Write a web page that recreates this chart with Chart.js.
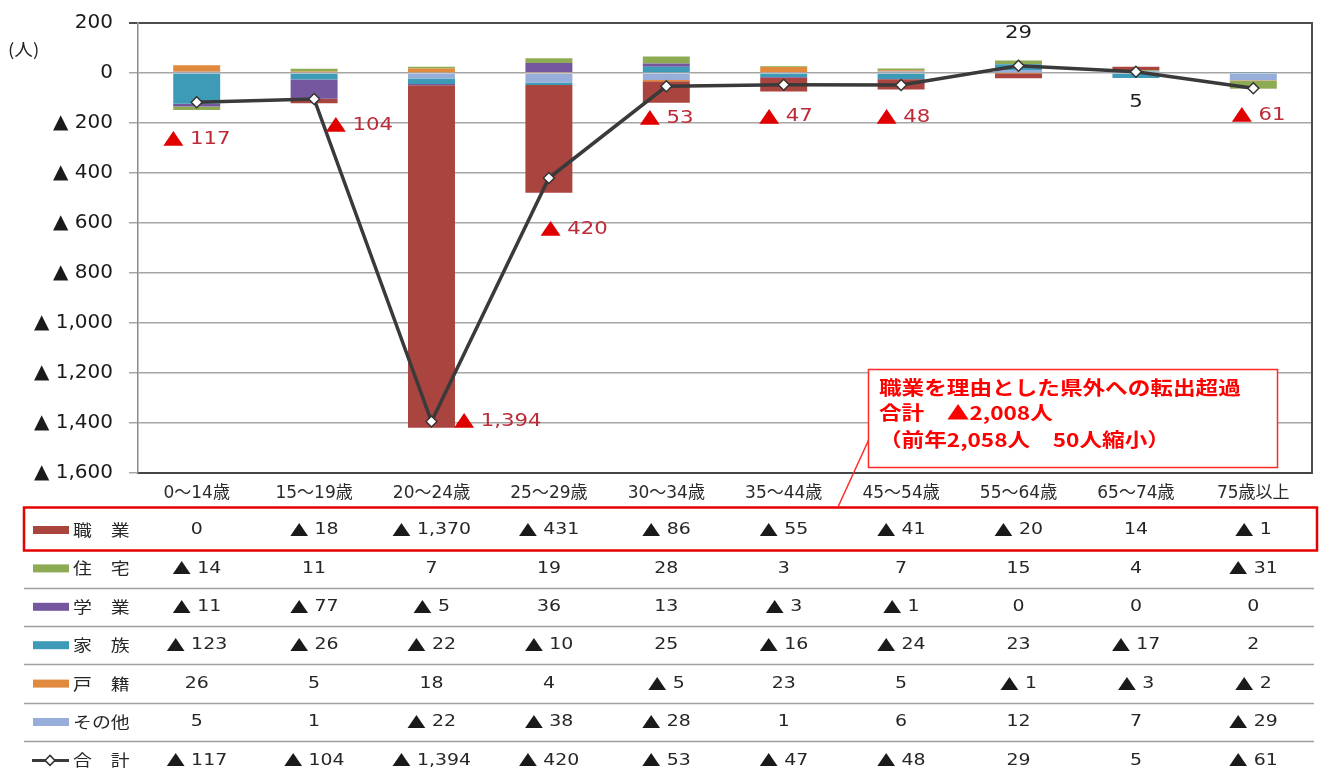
<!DOCTYPE html>
<html>
<head>
<meta charset="utf-8">
<script src="https://cdn.jsdelivr.net/npm/chart.js@4/dist/chart.umd.min.js"></script>
<style>
html,body{margin:0;padding:0;background:#fff;}
#wrap{width:1319px;height:769px;position:relative;}
</style>
</head>
<body>
<div id="wrap"><canvas id="c" width="1319" height="769"></canvas></div>
<script>
// ---------- data ----------
const categories = ['0～14歳','15～19歳','20～24歳','25～29歳','30～34歳','35～44歳','45～54歳','55～64歳','65～74歳','75歳以上'];
const seriesNames = ['職　業','住　宅','学　業','家　族','戸　籍','その他'];
const totalName = '合　計';
const shokugyo = [0, -18, -1370, -431, -86, -55, -41, -20, 14, -1];
const jutaku   = [-14, 11, 7, 19, 28, 3, 7, 15, 4, -31];
const gakugyo  = [-11, -77, -5, 36, 13, -3, -1, 0, 0, 0];
const kazoku   = [-123, -26, -22, -10, 25, -16, -24, 23, -17, 2];
const koseki   = [26, 5, 18, 4, -5, 23, 5, -1, -3, -2];
const sonota   = [5, 1, -22, -38, -28, 1, 6, 12, 7, -29];
const total    = [-117, -104, -1394, -420, -53, -47, -48, 29, 5, -61];
const yMin = -1600, yMax = 200, yStep = 200;
const unitLabel = '(人)';
const noteLines = ['職業を理由とした県外への転出超過', '合計　▲2,008人', '（前年2,058人　50人縮小）'];

// ---------- styles ----------
const seriesColors = ['#a9443f', '#8dab52', '#7557a0', '#3e9bb8', '#e1893d', '#97aedb'];
const tableSeries = [shokugyo, jutaku, gakugyo, kazoku, koseki, sonota];
// label placement relative to each total point (dx, dy) in px
const labelOffsets = [[0,37],[45,26],[66,0],[25,51],[0,32],[2,32],[2,32],[0,-32],[0,31],[5,27]];

const SX = 1.18;
const NUM_FONT = "'DejaVu Sans', 'Noto Sans CJK JP', sans-serif";
const JP_FONT = "'Noto Sans CJK JP', sans-serif";

function fmtNum(v){ return Math.abs(v).toLocaleString('en-US'); }

function sText(ctx, str, x, y, font, color, align, sx){
  ctx.save();
  ctx.font = font; ctx.fillStyle = color; ctx.textBaseline = 'middle'; ctx.textAlign = 'left';
  const w = ctx.measureText(str).width * sx;
  const left = align === 'center' ? x - w/2 : (align === 'right' ? x - w : x);
  ctx.translate(left, y); ctx.scale(sx, 1); ctx.fillText(str, 0, 0);
  ctx.restore();
  return w;
}
function measure(ctx, str, font, sx){ ctx.save(); ctx.font = font; const w = ctx.measureText(str).width*sx; ctx.restore(); return w; }

// draws "▲ n" or "n" centered at x
function drawValue(ctx, v, x, y, size, triColor, numColor, posColor, sx, gap){
  const nf = size + 'px ' + NUM_FONT;
  const tf = size + 'px ' + JP_FONT;
  if (v < 0){
    const tw = measure(ctx, '▲', tf, sx);
    const nw = measure(ctx, fmtNum(v), nf, sx);
    const start = x - (tw + gap + nw)/2;
    sText(ctx, '▲', start, y, tf, triColor, 'left', sx);
    sText(ctx, fmtNum(v), start + tw + gap, y, nf, numColor, 'left', sx);
  } else {
    sText(ctx, String(v), x, y, nf, posColor, 'center', sx);
  }
}

const overlay = {
  id: 'overlay',
  afterDatasetsDraw(chart){
    const ctx = chart.ctx;
    const area = chart.chartArea;
    // right frame border
    ctx.save();
    ctx.strokeStyle = '#4d4d4d'; ctx.lineWidth = 2;
    ctx.beginPath(); ctx.moveTo(area.right, area.top - 1); ctx.lineTo(area.right, area.bottom + 1); ctx.stroke();
    ctx.restore();
    // total data labels
    const meta = chart.getDatasetMeta(chart.data.datasets.length - 1);
    meta.data.forEach((pt, i) => {
      const v = total[i];
      const [dx, dy] = labelOffsets[i];
      drawValue(ctx, v, pt.x + dx, pt.y + dy, 18, '#e00000', '#bd2b38', '#1f1f1f', SX, 6);
    });
  },
  afterDraw(chart){
    const ctx = chart.ctx;
    const xs = chart.scales.x;
    // unit label
    sText(ctx, unitLabel, 8, 50, '17px ' + JP_FONT, '#222', 'left', 1.1);

    // ---------- data table ----------
    const rowY0 = 530, rowH = 38.4;
    const tLeft = 24, tRight = 1314;
    ctx.save();
    ctx.strokeStyle = '#a0a0a0'; ctx.lineWidth = 1.5;
    for (let r = 1; r < 6; r++){
      const y = Math.round(rowY0 + rowH*r + rowH/2) + 0.5;
      ctx.beginPath(); ctx.moveTo(tLeft, y); ctx.lineTo(tRight, y); ctx.stroke();
    }
    ctx.restore();
    const rows = tableSeries.concat([total]);
    const names = seriesNames.concat([totalName]);
    rows.forEach((arr, r) => {
      const y = rowY0 + rowH*r;
      if (r < 6){
        ctx.fillStyle = seriesColors[r];
        ctx.fillRect(33, y - 4, 36, 8);
      } else {
        ctx.save();
        ctx.strokeStyle = '#3a3a3a'; ctx.lineWidth = 3;
        ctx.beginPath(); ctx.moveTo(32, y); ctx.lineTo(69, y); ctx.stroke();
        ctx.fillStyle = '#fff'; ctx.lineWidth = 1.5; ctx.strokeStyle = '#333';
        ctx.beginPath(); ctx.moveTo(50, y-5); ctx.lineTo(55, y); ctx.lineTo(50, y+5); ctx.lineTo(45, y); ctx.closePath();
        ctx.fill(); ctx.stroke();
        ctx.restore();
      }
      sText(ctx, names[r], 73, y, '16px ' + JP_FONT, '#262626', 'left', SX);
      arr.forEach((v, i) => {
        const x = xs.getPixelForValue(i);
        drawValue(ctx, v, x, y, 16, '#1a1a1a', '#262626', '#262626', SX, 6);
      });
    });
    ctx.save();
    ctx.strokeStyle = '#e60000'; ctx.lineWidth = 2.5;
    ctx.strokeRect(24, 507.5, 1293, 43);
    ctx.restore();

    // ---------- note box ----------
    ctx.save();
    ctx.strokeStyle = '#ff2a2a'; ctx.lineWidth = 1.5;
    ctx.beginPath(); ctx.moveTo(870, 437); ctx.lineTo(838, 507); ctx.stroke();
    ctx.fillStyle = '#fff';
    ctx.fillRect(868, 369, 409, 98);
    ctx.strokeRect(868.5, 369.5, 409, 98);
    ctx.restore();
    const ny = [388, 413, 440];
    noteLines.forEach((t, k) => {
      sText(ctx, t, 879, ny[k], 'bold 19px ' + JP_FONT, '#ff0000', 'left', 1.19);
    });
  }
};

const barOrder = [5, 4, 3, 2, 1, 0]; // stacked from zero outward
const datasets = barOrder.map(k => ({
  type: 'bar',
  label: seriesNames[k],
  data: tableSeries[k],
  backgroundColor: seriesColors[k],
  borderWidth: 0,
  stack: 'bars',
  order: 1,
  categoryPercentage: 1.0,
  barPercentage: 0.4
}));
datasets.push({
  type: 'line',
  label: totalName,
  data: total,
  stack: 'total',
  order: 0,
  borderColor: '#3a3a3a',
  borderWidth: 3.5,
  pointStyle: 'rectRot',
  pointRadius: 5.5,
  pointBackgroundColor: '#ffffff',
  pointBorderColor: '#333333',
  pointBorderWidth: 1.5,
  tension: 0
});

new Chart(document.getElementById('c'), {
  data: { labels: categories, datasets },
  options: {
    responsive: false,
    animation: false,
    devicePixelRatio: 1,
    layout: { padding: { top: 23, right: 4, left: 0, bottom: 0 } },
    plugins: { legend: { display: false }, tooltip: { enabled: false } },
    scales: {
      x: {
        stacked: true,
        grid: { display: false, drawTicks: false },
        border: { display: true, color: '#444', width: 2 },
        ticks: { font: { family: NUM_FONT, size: 17 }, color: '#2a2a2a', padding: 10, maxRotation: 0, autoSkip: false },
        afterFit(s){ s.height = 296; s.paddingLeft = 0; s.paddingRight = 0; }
      },
      y: {
        stacked: true,
        min: yMin, max: yMax,
        ticks: {
          stepSize: yStep,
          font: { family: NUM_FONT, size: 20 },
          color: '#1a1a1a',
          padding: 16,
          callback: v => v < 0 ? '▲ ' + fmtNum(v) : String(v)
        },
        grid: {
          color: c => c.tick && c.tick.value === yMax ? '#4d4d4d' : '#a6a6a6',
          lineWidth: c => c.tick && c.tick.value === yMax ? 2 : 1.5,
          tickLength: 9
        },
        border: { display: true, color: '#8a8a8a', width: 1.5 },
        afterFit(s){ s.width = 138; s.paddingTop = 0; s.paddingBottom = 0; }
      }
    }
  },
  plugins: [overlay]
});
</script>
</body>
</html>
